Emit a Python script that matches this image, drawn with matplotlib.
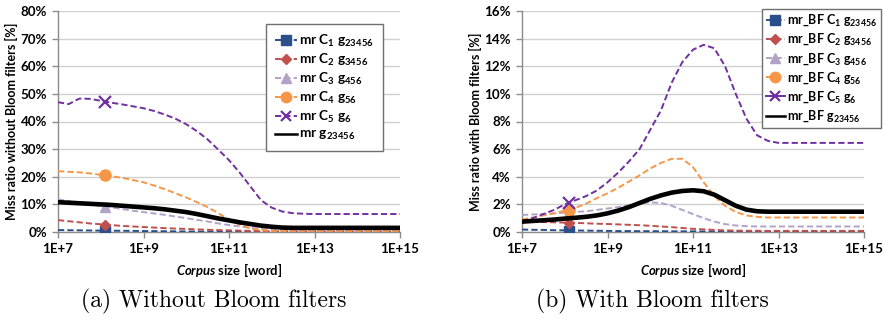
import matplotlib
matplotlib.use("Agg")
import matplotlib.pyplot as plt
from matplotlib.lines import Line2D
import numpy as np

plt.rcParams['font.family'] = ['Lato', 'DejaVu Sans']
plt.rcParams['font.weight'] = 'bold'
plt.rcParams['mathtext.fontset'] = 'custom'
plt.rcParams['mathtext.rm'] = 'Lato:bold'
plt.rcParams['mathtext.bf'] = 'Lato:bold'
plt.rcParams['mathtext.it'] = 'Lato:italic:bold'
plt.rcParams['mathtext.default'] = 'rm'

# ---------------- data ----------------
exponents = [7.0 + 0.25 * i for i in range(33)]   # corpus size = 10**exponent
marker_exp = 8.1

# (a) without Bloom filters  [%]
mr_c1 = [0.7, 0.65, 0.6, 0.55, 0.5, 0.48, 0.45, 0.4, 0.35, 0.32, 0.28, 0.24, 0.2, 0.17, 0.15, 0.12,
         0.1, 0.09, 0.08, 0.07, 0.06, 0.05] + [0.05] * 11
mr_c2 = [4.3, 3.9, 3.5, 3.1, 2.8, 2.5, 2.2, 2.0, 1.8, 1.6, 1.4, 1.25, 1.1, 0.95, 0.8, 0.7,
         0.6, 0.5, 0.4, 0.35, 0.3, 0.27, 0.25, 0.22] + [0.2] * 9
mr_c3 = [11.8, 11.2, 10.5, 9.9, 9.4, 8.9, 8.3, 7.7, 7.2, 6.7, 6.2, 5.6, 5.0, 4.4, 3.8, 3.1,
         2.5, 2.0, 1.5, 1.1, 0.8, 0.6, 0.5, 0.45] + [0.4] * 9
mr_c4 = [22, 21.8, 21.6, 21.2, 20.7, 20.2, 19.6, 18.8, 18.0, 16.8, 15.5, 14.0, 12.5, 10.8, 9.0, 6.8,
         4.5, 2.6, 1.3, 0.7, 0.4, 0.35] + [0.3] * 11
mr_c5 = [47, 46.3, 48.3, 48.2, 47.5, 46.8, 46.2, 45.5, 44.8, 43.8, 42.5, 41, 39, 36.5, 33.5, 29.8,
         26, 21.5, 16.5, 11.5, 8.8, 7.4, 6.8, 6.6] + [6.5] * 9
mr_all = [10.8, 10.6, 10.4, 10.2, 10.0, 9.8, 9.5, 9.2, 8.9, 8.6, 8.2, 7.7, 7.2, 6.5, 5.7, 4.9,
          4.2, 3.5, 2.9, 2.3, 1.9, 1.6, 1.5] + [1.5] * 10
mr_markers = [0.5, 2.7, 9.2, 20.5, 47.0]

# (b) with Bloom filters  [%]
bf_c1 = [0.18, 0.16, 0.15, 0.13, 0.12, 0.11, 0.1, 0.09, 0.08, 0.07, 0.07, 0.06, 0.06, 0.06, 0.05, 0.05,
         0.05] + [0.04] * 16
bf_c2 = [0.8, 0.76, 0.72, 0.7, 0.68, 0.66, 0.63, 0.6, 0.58, 0.55, 0.52, 0.49, 0.45, 0.4, 0.35, 0.29,
         0.23, 0.19, 0.15, 0.12, 0.1, 0.09, 0.09] + [0.08] * 10
bf_c3 = [1.23, 1.27, 1.3, 1.35, 1.4, 1.45, 1.5, 1.6, 1.7, 1.8, 1.95, 2.05, 2.15, 2.1, 1.9, 1.6,
         1.3, 1.0, 0.75, 0.57, 0.47, 0.42] + [0.4] * 11
bf_c4 = [0.9, 1.05, 1.2, 1.35, 1.55, 1.75, 2.05, 2.45, 2.8, 3.2, 3.65, 4.1, 4.6, 5.0, 5.3, 5.3,
         4.7, 3.6, 2.6, 1.9, 1.45, 1.2, 1.1] + [1.05] * 10
bf_c5 = [0.75, 1.0, 1.3, 1.6, 2.0, 2.3, 2.6, 3.0, 3.6, 4.3, 5.1, 6.0, 7.4, 8.8, 10.8, 12.3,
         13.2, 13.55, 13.3, 12.0, 10.0, 8.2, 7.0, 6.6] + [6.45] * 9
bf_all = [0.75, 0.8, 0.85, 0.9, 0.97, 1.03, 1.1, 1.2, 1.35, 1.55, 1.8, 2.1, 2.4, 2.65, 2.85, 2.97,
          3.02, 2.95, 2.7, 2.3, 1.9, 1.62, 1.5] + [1.47] * 10
bf_markers = [0.1, 0.67, 1.4, 1.6, 2.1]

labels_a = [r"mr C$_1$ g$_{23456}$", r"mr C$_2$ g$_{3456}$", r"mr C$_3$ g$_{456}$",
            r"mr C$_4$ g$_{56}$", r"mr C$_5$ g$_6$", r"mr g$_{23456}$"]
labels_b = [r"mr_BF C$_1$ g$_{23456}$", r"mr_BF C$_2$ g$_{3456}$", r"mr_BF C$_3$ g$_{456}$",
            r"mr_BF C$_4$ g$_{56}$", r"mr_BF C$_5$ g$_6$", r"mr_BF g$_{23456}$"]
xtick_exp = [7, 9, 11, 13, 15]
xtick_labels = ["1E+7", "1E+9", "1E+11", "1E+13", "1E+15"]

colors = ["#2B4F8A", "#C0504D", "#B3A2C7", "#F79646", "#7030A0"]
markers = ["s", "D", "^", "o", "x"]
msizes = [7, 5.5, 7, 8, 8]

W, H = 885, 324
fig = plt.figure(figsize=(W / 100, H / 100), dpi=100)


def panel(left_px, series, allser, mvals, labels, ymax, ystep, ylabel, leg_pos, c5_solid_legend,
          legpad, hlen, legfs, lspace):
    ax = fig.add_axes([left_px / W, 1 - 232 / H, 342 / W, 221 / H])
    xs = [10 ** e for e in exponents]
    handles = []
    for i, ser in enumerate(series):
        ax.plot(xs, ser, color=colors[i], lw=1.4, ls=(0, (3.2, 1.6)), zorder=3)
        ax.plot([10 ** marker_exp], [mvals[i]], ls='none', marker=markers[i], ms=msizes[i],
                color=colors[i], mew=1.6 if markers[i] == 'x' else 1, zorder=4)
        solid = c5_solid_legend and i == 4
        handles.append(Line2D([], [], color=colors[i], lw=1.4,
                              ls='-' if solid else (0, (3.2, 1.6)),
                              marker=markers[i], ms=msizes[i] - 0.5,
                              mew=1.6 if markers[i] == 'x' else 1))
    ax.plot(xs, allser, color='black', lw=3.3, zorder=5, solid_capstyle='round')
    handles.append(Line2D([], [], color='black', lw=1.8))

    ax.set_xscale('log')
    ax.set_xlim(1e7, 1e15)
    ax.set_ylim(0, ymax)
    ax.set_xticks([10 ** e for e in xtick_exp])
    ax.set_xticklabels(xtick_labels)
    ax.xaxis.set_minor_locator(matplotlib.ticker.NullLocator())
    yt = np.arange(0, ymax + 0.001, ystep)
    ax.set_yticks(yt)
    ax.set_yticklabels([f"{int(round(v))}%" for v in yt])
    ax.grid(axis='y', color='#D0D0D0', lw=1.0, zorder=0)
    ax.set_axisbelow(True)
    for s in ['top', 'right']:
        ax.spines[s].set_visible(False)
    for s in ['left', 'bottom']:
        ax.spines[s].set_color('#8C8C8C')
        ax.spines[s].set_linewidth(1.0)
    ax.tick_params(axis='both', colors='#8C8C8C', labelcolor='black', length=4, width=1,
                   labelsize=9.6, pad=4)
    for t in ax.get_xticklabels() + ax.get_yticklabels():
        t.set_fontweight('bold')
    ax.set_ylabel(ylabel, fontsize=9.0, fontweight='bold', labelpad=2)
    ax.set_xlabel(r"$\mathit{Corpus}$ size [word]", fontsize=9.4, fontweight='bold', labelpad=4)

    leg = ax.legend(handles, labels, loc='upper left',
                    bbox_to_anchor=(leg_pos[0] / W, 1 - leg_pos[1] / H),
                    bbox_transform=fig.transFigure, fontsize=legfs, frameon=True,
                    fancybox=False, framealpha=1, edgecolor='#707070',
                    handlelength=hlen, handletextpad=0.2, labelspacing=lspace,
                    borderpad=legpad, borderaxespad=0)
    leg.get_frame().set_linewidth(1.0)
    leg.set_zorder(10)
    return ax


panel(58, [mr_c1, mr_c2, mr_c3, mr_c4, mr_c5], mr_all, mr_markers, labels_a, 80, 10,
      "Miss ratio without Bloom filters [%]", (266, 24), False, 0.65, 1.6, 9.8, 0.22)
panel(522, [bf_c1, bf_c2, bf_c3, bf_c4, bf_c5], bf_all, bf_markers, labels_b, 16, 2,
      "Miss ratio with Bloom filters [%]", (762, 9), True, 0.3, 1.5, 9.0, 0.3)

fig.text(214 / W, 1 - 301 / H, "(a) Without Bloom filters", family='cmr10', fontsize=17,
         fontweight='normal', ha='center', va='center')
fig.text(652 / W, 1 - 301 / H, "(b) With Bloom filters", family='cmr10', fontsize=17,
         fontweight='normal', ha='center', va='center')

fig.savefig("out.png", dpi=100)
